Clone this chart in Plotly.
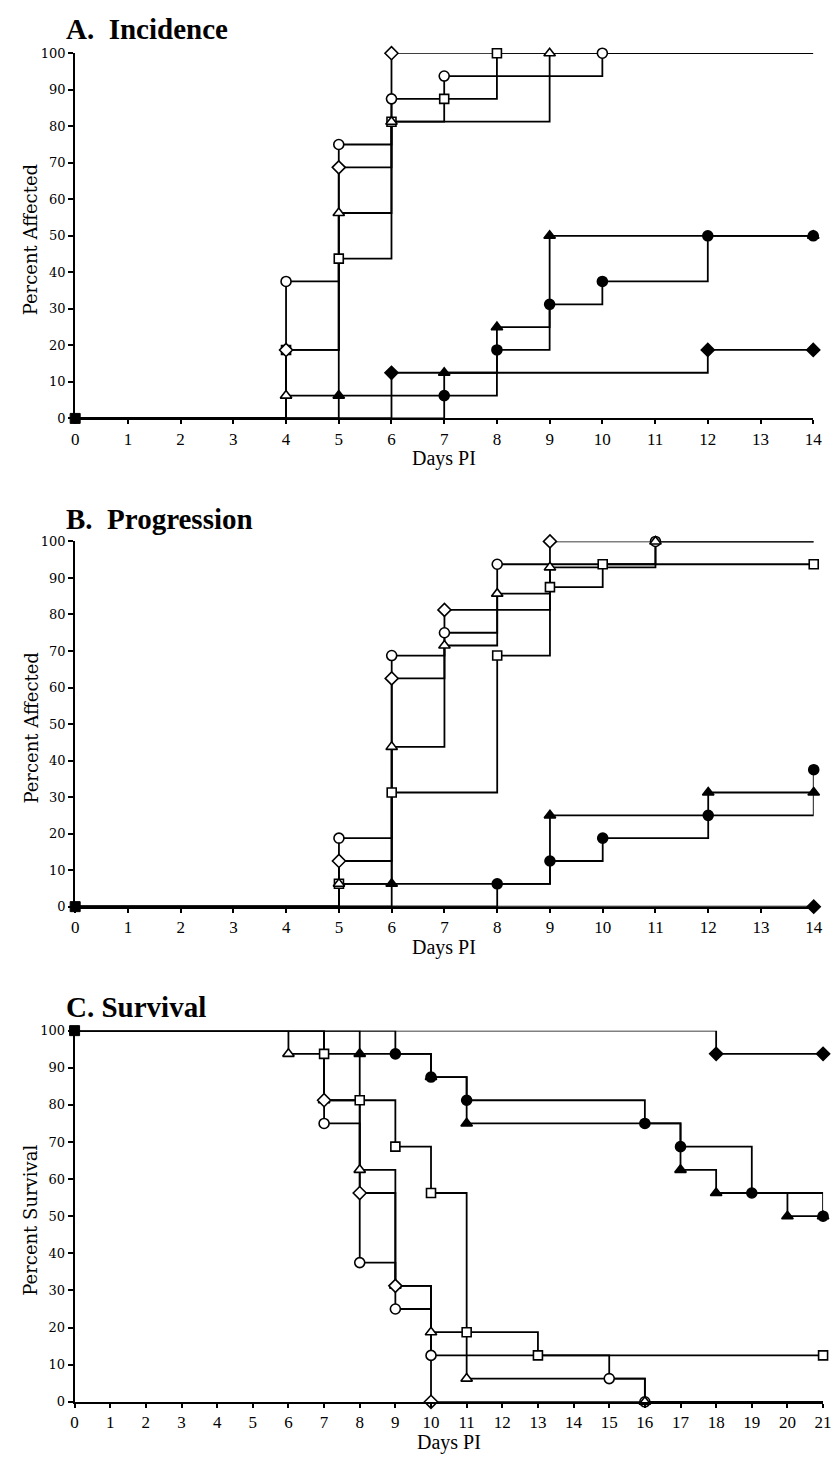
import plotly.graph_objects as go

W, H = 837, 1457

# ---------------- Data (days post infection, percent) ----------------
# A. Incidence
A_open_circle_day = [4, 5, 6, 7, 10]
A_open_circle_pct = [37.5, 75, 87.5, 93.75, 100]
A_open_square_day = [4, 5, 6, 7, 8]
A_open_square_pct = [18.75, 43.75, 81.25, 87.5, 100]
A_open_triangle_day = [4, 5, 6, 9]
A_open_triangle_pct = [6.25, 56.25, 81.25, 100]
A_open_diamond_day = [4, 5, 6]
A_open_diamond_pct = [18.75, 68.75, 100]
A_filled_circle_day = [7, 8, 9, 10, 12, 14]
A_filled_circle_pct = [6.25, 18.75, 31.25, 37.5, 50, 50]
A_filled_triangle_day = [5, 7, 8, 9, 14]
A_filled_triangle_pct = [6.25, 12.5, 25, 50, 50]
A_filled_diamond_day = [6, 12, 14]
A_filled_diamond_pct = [12.5, 18.75, 18.75]

# B. Progression
B_open_circle_day = [5, 6, 7, 8, 11]
B_open_circle_pct = [18.75, 68.75, 75, 93.75, 100]
B_open_square_day = [5, 6, 8, 9, 10, 14]
B_open_square_pct = [6.25, 31.25, 68.75, 87.5, 93.75, 93.75]
B_open_triangle_day = [5, 6, 7, 8, 9, 11]
B_open_triangle_pct = [6.25, 43.75, 71.5, 85.7, 92.9, 100]
B_open_diamond_day = [5, 6, 7, 9]
B_open_diamond_pct = [12.5, 62.5, 81.25, 100]
B_filled_circle_day = [8, 9, 10, 12, 14]
B_filled_circle_pct = [6.25, 12.5, 18.75, 25, 37.5]
B_filled_triangle_day = [6, 9, 12, 14]
B_filled_triangle_pct = [6.25, 25, 31.25, 31.25]
B_filled_diamond_day = [14]
B_filled_diamond_pct = [0]

# C. Survival
C_open_circle_day = [7, 8, 9, 10, 15, 16]
C_open_circle_pct = [75, 37.5, 25, 12.5, 6.25, 0]
C_open_square_day = [7, 8, 9, 10, 11, 13, 21]
C_open_square_pct = [93.75, 81.25, 68.75, 56.25, 18.75, 12.5, 12.5]
C_open_triangle_day = [6, 7, 8, 9, 10, 11, 16]
C_open_triangle_pct = [93.75, 81.25, 62.5, 31.25, 18.75, 6.25, 0]
C_open_diamond_day = [7, 8, 9, 10]
C_open_diamond_pct = [81.25, 56.25, 31.25, 0]
C_filled_circle_day = [9, 10, 11, 16, 17, 19, 21]
C_filled_circle_pct = [93.75, 87.5, 81.25, 75, 68.75, 56.25, 50]
C_filled_triangle_day = [8, 10, 11, 17, 18, 20, 21]
C_filled_triangle_pct = [93.75, 87.5, 75, 62.5, 56.25, 50, 50]
C_filled_diamond_day = [18, 21]
C_filled_diamond_pct = [93.75, 93.75]

A_start, B_start, C_start = 0, 0, 100
A_end_day, B_end_day, C_end_day = 14, 14, 21

panel_titles = ["A.  Incidence", "B.  Progression", "C. Survival"]
y_titles = ["Percent Affected", "Percent Affected", "Percent Survival"]
x_title = "Days PI"
y_ticks = list(range(0, 101, 10))

# ---------------- Figure ----------------
def px(xp):
    return xp / W

def py(yp):
    return 1 - yp / H

SYMBOL = {"circle": ("circle", 10), "square": ("square", 9),
          "triangle": ("triangle-up", 10), "diamond": ("diamond", 10)}

panels = [
    dict(ax="", start=A_start, end=A_end_day,
         series=[(A_open_circle_day, A_open_circle_pct, "circle", False),
                 (A_open_square_day, A_open_square_pct, "square", False),
                 (A_open_triangle_day, A_open_triangle_pct, "triangle", False),
                 (A_open_diamond_day, A_open_diamond_pct, "diamond", False),
                 (A_filled_circle_day, A_filled_circle_pct, "circle", True),
                 (A_filled_triangle_day, A_filled_triangle_pct, "triangle", True),
                 (A_filled_diamond_day, A_filled_diamond_pct, "diamond", True)],
         xdom=(72.3, 822.0), ydom=(46.7, 415.7), title_y=22),
    dict(ax="2", start=B_start, end=B_end_day,
         series=[(B_open_circle_day, B_open_circle_pct, "circle", False),
                 (B_open_square_day, B_open_square_pct, "square", False),
                 (B_open_triangle_day, B_open_triangle_pct, "triangle", False),
                 (B_open_diamond_day, B_open_diamond_pct, "diamond", False),
                 (B_filled_circle_day, B_filled_circle_pct, "circle", True),
                 (B_filled_triangle_day, B_filled_triangle_pct, "triangle", True),
                 (B_filled_diamond_day, B_filled_diamond_pct, "diamond", True)],
         xdom=(72.3, 822.5), ydom=(540.0, 909.0), title_y=517),
    dict(ax="3", start=C_start, end=C_end_day,
         series=[(C_open_circle_day, C_open_circle_pct, "circle", False),
                 (C_open_square_day, C_open_square_pct, "square", False),
                 (C_open_triangle_day, C_open_triangle_pct, "triangle", False),
                 (C_open_diamond_day, C_open_diamond_pct, "diamond", False),
                 (C_filled_circle_day, C_filled_circle_pct, "circle", True),
                 (C_filled_triangle_day, C_filled_triangle_pct, "triangle", True),
                 (C_filled_diamond_day, C_filled_diamond_pct, "diamond", True)],
         xdom=(71.7, 832.0), ydom=(1034.3, 1409.3), title_y=1010),
]

fig = go.Figure()
layout = dict(width=W, height=H, margin=dict(l=0, r=0, t=0, b=0),
              plot_bgcolor="white", paper_bgcolor="white", showlegend=False)
annotations = []

for i, p in enumerate(panels):
    xa, ya = "x" + p["ax"], "y" + p["ax"]
    # step lines
    for days, pct, sym, filled in p["series"]:
        fig.add_trace(go.Scatter(
            x=[0] + days + [p["end"]], y=[p["start"]] + pct + [pct[-1]],
            mode="lines", line=dict(color="black", width=1.8, shape="hv"),
            xaxis=xa, yaxis=ya, hoverinfo="skip", cliponaxis=False))
    # markers: open first, then filled
    for want_filled in (False, True):
        for days, pct, sym, filled in p["series"]:
            if filled != want_filled:
                continue
            s, size = SYMBOL[sym]
            fig.add_trace(go.Scatter(
                x=days, y=pct, mode="markers",
                marker=dict(symbol=s, size=size,
                            color="black" if filled else "white",
                            line=dict(color="black", width=1.6)),
                xaxis=xa, yaxis=ya, cliponaxis=False))
    # start marker (all groups coincide)
    fig.add_trace(go.Scatter(
        x=[0], y=[p["start"]], mode="markers",
        marker=dict(symbol="square", size=10, color="black",
                    line=dict(color="black", width=1)),
        xaxis=xa, yaxis=ya, cliponaxis=False))

    x0, x1 = p["xdom"]
    y0, y1 = p["ydom"]
    layout["xaxis" + p["ax"]] = dict(
        domain=[px(x0), px(x1)], range=[0, p["end"]], anchor=ya,
        tickvals=list(range(0, p["end"] + 1)), ticks="outside", ticklen=4,
        tickwidth=1.5, tickcolor="black", showline=True, linewidth=2,
        linecolor="black", showgrid=False, zeroline=False,
        tickfont=dict(family="Liberation Serif", size=17, color="black"))
    layout["yaxis" + p["ax"]] = dict(
        domain=[py(y1), py(y0)], range=[0, 100], anchor=xa,
        tickvals=y_ticks, ticks="outside", ticklen=5, tickwidth=1.5,
        tickcolor="black", showline=True, linewidth=2, linecolor="black",
        showgrid=False, zeroline=False,
        tickfont=dict(family="DejaVu Serif", size=13, color="black"))

    annotations.append(dict(
        text="<b>%s</b>" % panel_titles[i], xref="paper", yref="paper",
        x=px(61), y=py(p["title_y"]), xanchor="left", yanchor="middle",
        showarrow=False, font=dict(family="Liberation Serif", size=29, color="black")))
    annotations.append(dict(
        text=y_titles[i], xref="paper", yref="paper", textangle=-90,
        x=px(27), y=py((y0 + y1) / 2 + 4), xanchor="center", yanchor="middle",
        showarrow=False, font=dict(family="DejaVu Serif", size=18, color="black")))
    annotations.append(dict(
        text=x_title, xref="paper", yref="paper",
        x=px((x0 + x1) / 2), y=py(y1 + 41), xanchor="center", yanchor="middle",
        showarrow=False, font=dict(family="Liberation Serif", size=20, color="black")))

layout["annotations"] = annotations
fig.update_layout(**layout)
fig.write_html("out.html")
